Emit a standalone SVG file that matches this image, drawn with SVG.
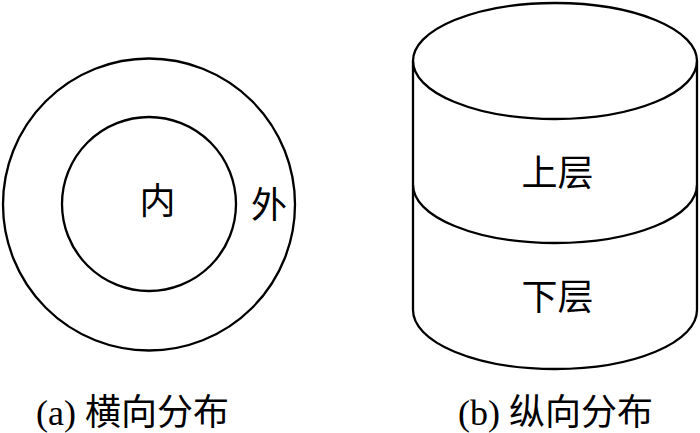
<svg xmlns="http://www.w3.org/2000/svg" width="700" height="433" viewBox="0 0 700 433">
<style>
.s{fill:none;stroke:#000;stroke-width:2.3}
.t{font-family:"Liberation Serif","Noto Sans CJK SC",serif;font-size:36px;fill:#000}
.c{text-anchor:middle}
</style>
<rect width="700" height="433" fill="#fff"/>
<g id="ring-outer"><circle class="s" cx="149" cy="204.5" r="146"/><text class="t c" x="269" y="218">外</text></g>
<g id="ring-inner"><circle class="s" cx="149" cy="204" r="87"/><text class="t c" x="157.5" y="214">内</text></g>
<g id="cyl-upper">
<ellipse class="s" cx="555" cy="61" rx="142" ry="58"/>
<path class="s" d="M413 61 V185 M697 61 V185"/>
<text class="t c" x="557.5" y="186">上层</text>
</g>
<g id="cyl-lower">
<path class="s" d="M413 185 A142 58 0 0 0 697 185"/>
<path class="s" d="M413 185 V310 A142 59 0 0 0 697 310 V185"/>
<text class="t c" x="557.5" y="310">下层</text>
</g>
<g id="captions">
<text class="t" x="36" y="425">(a) 横向分布</text>
<text class="t" x="458" y="425">(b) 纵向分布</text>
</g>
<g id="connectors"/>
</svg>
